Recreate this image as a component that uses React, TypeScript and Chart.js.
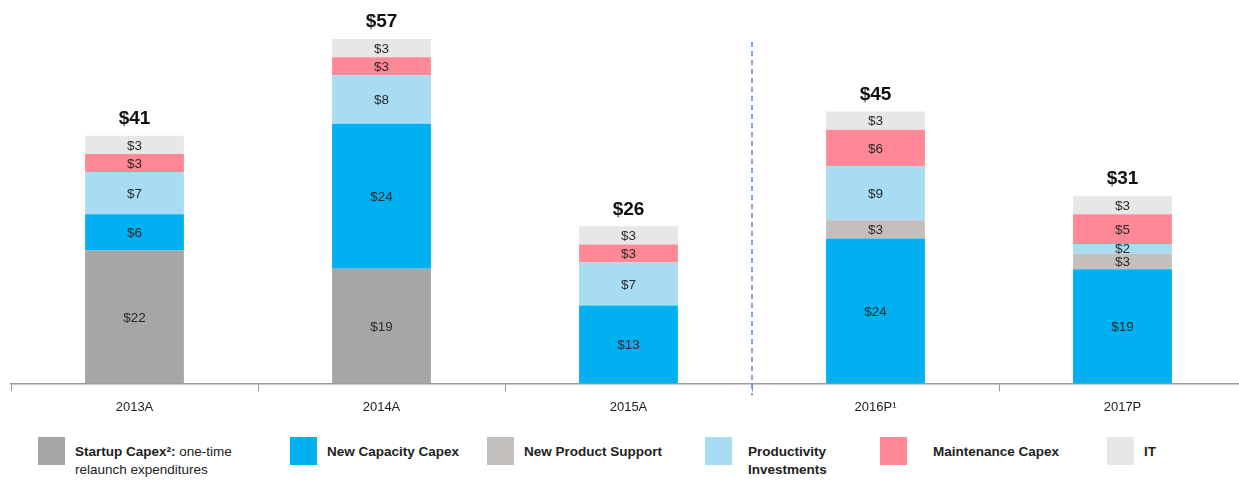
import React, { useEffect, useRef } from "react";
import { Chart, registerables } from "chart.js";

Chart.register(...registerables);

const categories = ["2013A", "2014A", "2015A", "2016P¹", "2017P"];
const startupCapex = [22, 19, 0, 0, 0];
const newCapacityCapex = [6, 24, 12.9, 24, 18.9];
const newProductSupport = [0, 0, 0, 3, 2.6];
const productivityInvestments = [7, 8, 7.1, 9, 1.6];
const maintenanceCapex = [3, 3, 3, 6, 4.9];
const itCapex = [3, 3, 3, 3, 3];

const seriesNames = [
  "Startup Capex",
  "New Capacity Capex",
  "New Product Support",
  "Productivity Investments",
  "Maintenance Capex",
  "IT",
];
const seriesColors = ["#a6a6a6", "#00b0f0", "#c2bfbc", "#a7dcf2", "#ff8896", "#e8e6e8"];
const seriesData = [
  startupCapex,
  newCapacityCapex,
  newProductSupport,
  productivityInvestments,
  maintenanceCapex,
  itCapex,
];

const FONT = "'Liberation Sans', Arial, sans-serif";

const labelPlugin = {
  id: "stackLabels",
  afterDatasetsDraw(chart: any) {
    const ctx = chart.ctx;
    const n = chart.data.labels.length;
    ctx.save();
    ctx.textAlign = "center";
    ctx.textBaseline = "middle";
    chart.data.datasets.forEach((ds: any, di: number) => {
      const meta = chart.getDatasetMeta(di);
      meta.data.forEach((el: any, i: number) => {
        const v = ds.data[i];
        if (!v) return;
        ctx.font = `13.5px ${FONT}`;
        ctx.fillStyle = "#2a2a2a";
        ctx.fillText("$" + Math.round(v), el.x, (el.y + el.base) / 2 + 1);
      });
    });
    // totals
    for (let i = 0; i < n; i++) {
      let total = 0;
      chart.data.datasets.forEach((ds: any) => (total += ds.data[i] || 0));
      const topMeta = chart.getDatasetMeta(chart.data.datasets.length - 1);
      const el = topMeta.data[i];
      ctx.font = `bold 19px ${FONT}`;
      ctx.fillStyle = "#111";
      ctx.fillText("$" + Math.round(total), el.x, el.y - 17);
    }
    // dashed divider between actual and projected
    const xs = chart.scales.x;
    const ys = chart.scales.y;
    const xd = (xs.getPixelForValue(2) + xs.getPixelForValue(3)) / 2;
    ctx.strokeStyle = "#4a8fd6";
    ctx.lineWidth = 1.5;
    ctx.setLineDash([5, 4]);
    ctx.beginPath();
    ctx.moveTo(xd, chart.chartArea.top + 21);
    ctx.lineTo(xd, ys.getPixelForValue(0) + 12);
    ctx.stroke();
    ctx.restore();
  },
};

const legendX = [38, 290, 487, 705, 880, 1107];

export default function App() {
  const ref = useRef<HTMLCanvasElement>(null);
  useEffect(() => {
    if (!ref.current) return;
    const chart = new Chart(ref.current, {
      type: "bar",
      data: {
        labels: categories,
        datasets: seriesData.map((d, i) => ({
          label: seriesNames[i],
          data: d,
          backgroundColor: seriesColors[i],
          borderWidth: 0,
          barPercentage: 0.4,
          categoryPercentage: 1,
        })),
      },
      options: {
        animation: false,
        responsive: false,
        maintainAspectRatio: false,
        layout: { padding: { top: 21, left: 11, right: 2, bottom: 0 } },
        plugins: { legend: { display: false }, tooltip: { enabled: false } },
        scales: {
          x: {
            stacked: true,
            offset: true,
            border: { display: true, color: "#9a9a9a", width: 1.5 },
            grid: {
              offset: true,
              drawOnChartArea: false,
              drawTicks: true,
              tickLength: 8,
              color: "#9a9a9a",
            },
            ticks: { color: "#222", font: { family: FONT, size: 13 }, padding: 8 },
          },
          y: { stacked: true, display: false, min: 0, max: 60 },
        },
      },
      plugins: [labelPlugin],
    });
    return () => chart.destroy();
  }, []);

  return (
    <div style={{ position: "absolute", left: 0, top: 0, width: 1239, height: 483, overflow: "hidden", background: "#fff", fontFamily: FONT }}>
      <canvas ref={ref} width={1248} height={423} style={{ position: "absolute", left: 0, top: 0 }} />
      {seriesNames.map((name, i) => (
        <div key={name} style={{ position: "absolute", left: legendX[i], top: 437, display: "flex", alignItems: "flex-start" }}>
          <div style={{ width: 27, height: 28, background: seriesColors[i], flex: "none" }} />
          <div style={{ marginLeft: i === 3 ? 16 : i === 4 ? 26 : 10, marginTop: 6, fontSize: 13.5, lineHeight: "18px", color: "#222", fontWeight: "bold", whiteSpace: "nowrap" }}>
            {i === 0 ? (
              <>
                Startup Capex²:<span style={{ fontWeight: "normal" }}> one-time</span>
                <br />
                <span style={{ fontWeight: "normal" }}>relaunch expenditures</span>
              </>
            ) : i === 3 ? (
              <>
                Productivity
                <br />
                Investments
              </>
            ) : (
              name
            )}
          </div>
        </div>
      ))}
    </div>
  );
}
